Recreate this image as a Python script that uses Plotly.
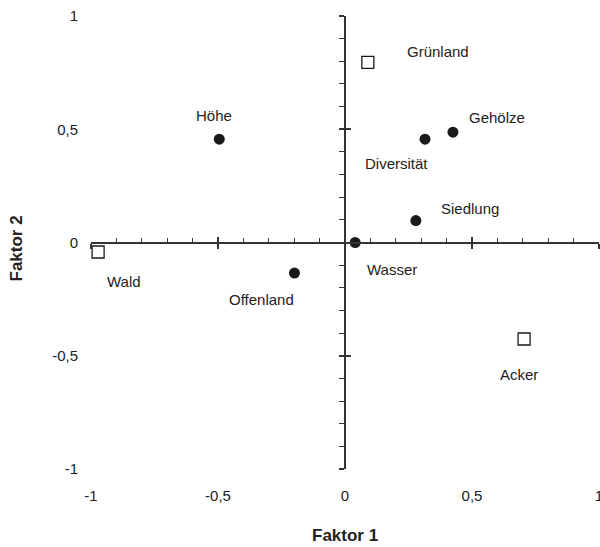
import plotly.graph_objects as go

# ---- data ----
var_names = ["Höhe", "Offenland", "Wasser", "Siedlung", "Diversität", "Gehölze"]
var_f1 = [-0.495, -0.199, 0.04, 0.279, 0.315, 0.425]
var_f2 = [0.456, -0.135, 0.0, 0.097, 0.456, 0.487]

land_names = ["Grünland", "Wald", "Acker"]
land_f1 = [0.09, -0.972, 0.705]
land_f2 = [0.795, -0.042, -0.426]

tick_vals = [-1, -0.5, 0, 0.5, 1]
tick_text = ["-1", "-0,5", "0", "0,5", "1"]

# label offsets (pixels): (xshift, yshift)
var_offsets = [(-5, 24), (-33, -26), (37, -27), (54, 12), (-29, -24), (44, 15)]
land_offsets = [(70, 11), (26, -29), (-5, -36)]

FONT = "Liberation Sans, Arial, sans-serif"
AX = "#333333"

fig = go.Figure()

fig.add_trace(go.Scatter(
    x=var_f1, y=var_f2, mode="markers",
    marker=dict(symbol="circle", size=11, color="#1a1a1a"),
    showlegend=False, hoverinfo="text", text=var_names))
fig.add_trace(go.Scatter(
    x=land_f1, y=land_f2, mode="markers",
    marker=dict(symbol="square", size=12, color="white",
                line=dict(color="#1a1a1a", width=1.3)),
    showlegend=False, hoverinfo="text", text=land_names))

# invisible traces to activate the crossing axes
for xa, ya in [("x2", "y"), ("x3", "y"), ("x", "y2"), ("x", "y3")]:
    fig.add_trace(go.Scatter(x=[None], y=[None], xaxis=xa, yaxis=ya,
                             showlegend=False, hoverinfo="skip"))

annotations = []
for n, x, y, (dx, dy) in zip(var_names, var_f1, var_f2, var_offsets):
    annotations.append(dict(x=x, y=y, text=n, showarrow=False, xshift=dx, yshift=dy,
                            font=dict(family=FONT, size=15, color="#222")))
for n, x, y, (dx, dy) in zip(land_names, land_f1, land_f2, land_offsets):
    annotations.append(dict(x=x, y=y, text=n, showarrow=False, xshift=dx, yshift=dy,
                            font=dict(family=FONT, size=15, color="#222")))

annotations.append(dict(xref="paper", yref="paper", x=0.5, y=0, yshift=-66,
                        xanchor="center", yanchor="middle",
                        text="<b>Faktor 1</b>", showarrow=False,
                        font=dict(family=FONT, size=17, color="#222")))
annotations.append(dict(xref="paper", yref="paper", x=0, y=0.5, xshift=-75, yshift=-6,
                        xanchor="center", yanchor="middle",
                        text="<b>Faktor 2</b>", showarrow=False, textangle=-90,
                        font=dict(family=FONT, size=17, color="#222")))

rng = [-1, 1]
common_label_axis = dict(range=rng, tickmode="array", tickvals=tick_vals, ticktext=tick_text,
                         showgrid=False, zeroline=False, showline=False, ticks="",
                         ticklabeloverflow="allow", automargin=False,
                         tickfont=dict(family=FONT, size=15, color="#222"), fixedrange=True)
cross = dict(range=rng, anchor="free", position=0.5, showgrid=False, zeroline=False,
             showticklabels=False, dtick=0.5, tick0=0, ticklen=5, tickcolor=AX,
             tickwidth=1.5, automargin=False, fixedrange=True)

fig.update_layout(
    width=600, height=547,
    margin=dict(l=91, r=1, t=16, b=78, autoexpand=False),
    plot_bgcolor="white", paper_bgcolor="white",
    xaxis=dict(**common_label_axis, ticklabelstandoff=16),
    yaxis=dict(**common_label_axis, ticklabelstandoff=12),
    # horizontal crossing axis at y=0: upward ticks (major + minor)
    xaxis2=dict(**cross, overlaying="x", side="bottom", showline=True, linecolor=AX,
                linewidth=1.5, ticks="inside",
                minor=dict(ticks="inside", dtick=0.1, tick0=0, ticklen=4, tickcolor=AX,
                           tickwidth=1.2, showgrid=False)),
    # downward major ticks
    xaxis3=dict(**cross, overlaying="x", side="bottom", showline=False, ticks="outside"),
    # vertical crossing axis at x=0: leftward ticks (major + minor)
    yaxis2=dict(**cross, overlaying="y", side="left", showline=True, linecolor=AX,
                linewidth=1.5, ticks="outside",
                minor=dict(ticks="outside", dtick=0.1, tick0=0, ticklen=5, tickcolor=AX,
                           tickwidth=1.2, showgrid=False)),
    # rightward major ticks
    yaxis3=dict(**cross, overlaying="y", side="left", showline=False, ticks="inside"),
    annotations=annotations,
)

# remove the default 8px page margin so the 600x547 figure fills the window exactly
fig.write_html("out.html", config={"displayModeBar": False, "responsive": False},
               post_script="document.body.style.margin='0';document.body.style.overflow='hidden';")
